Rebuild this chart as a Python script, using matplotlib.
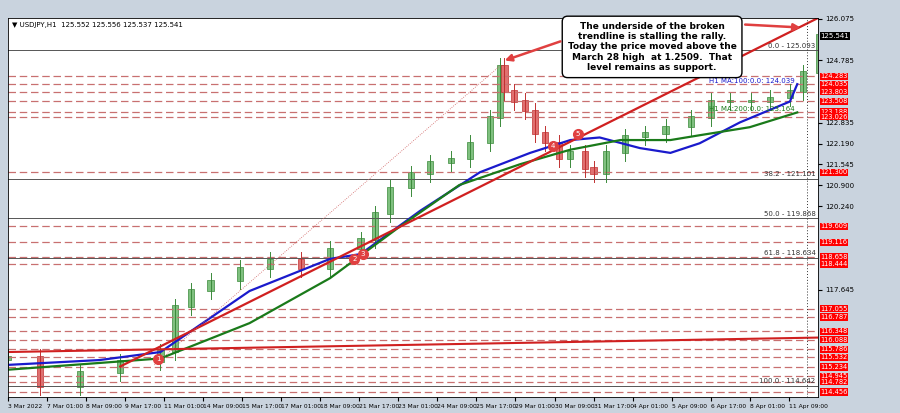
import numpy as np
import matplotlib.pyplot as plt

# estimated closes (bar index, price)
bars = [0, 26, 59, 92, 125, 137, 150, 166, 190, 215, 240, 264, 289, 301, 313, 330, 346, 363, 379, 395, 403, 407, 415, 424, 432, 440, 452, 461, 473, 480, 490, 506, 522, 539, 560, 576, 592, 609, 625, 641, 652, 665]
closes = [115.54, 114.62, 115.05, 115.40, 115.70, 117.10, 117.60, 117.90, 118.30, 118.55, 118.30, 118.90, 119.20, 120.00, 120.80, 121.25, 121.60, 121.70, 122.20, 123.00, 124.60, 123.80, 123.50, 123.20, 122.50, 122.20, 121.70, 121.90, 121.40, 121.25, 121.90, 122.40, 122.50, 122.70, 123.00, 123.50, 123.50, 123.50, 123.60, 123.80, 124.40, 125.54]
ma100_x = [0, 75, 125, 198, 264, 289, 338, 387, 428, 461, 485, 518, 543, 567, 600, 641, 647]
ma100_y = [115.3, 115.45, 115.7, 117.6, 118.6, 118.75, 120.1, 121.3, 121.9, 122.3, 122.38, 122.05, 121.9, 122.2, 122.85, 123.5, 124.04]
ma200_x = [0, 125, 198, 264, 321, 370, 420, 461, 502, 543, 567, 608, 647]
ma200_y = [115.15, 115.5, 116.6, 118.0, 119.6, 120.9, 121.55, 122.0, 122.3, 122.3, 122.45, 122.7, 123.16]

fib_levels = [125.093, 121.101, 119.868, 118.634, 114.642]
fib_names = ["0.0 - 125.093", "38.2 - 121.101", "50.0 - 119.868", "61.8 - 118.634", "100.0 - 114.642"]
red_levels = [124.283, 124.035, 123.803, 123.508, 123.188, 123.026, 121.300, 119.609, 119.116, 118.658,
              118.444, 117.055, 116.787, 116.348, 116.088, 115.786, 115.532, 115.234, 114.945, 114.782, 114.456]
axis_ticks = [124.785, 122.835, 122.190, 121.545, 120.900, 120.240, 117.645, 126.075]
tick_labels = ["3 Mar 2022", "7 Mar 01:00", "8 Mar 09:00", "9 Mar 17:00", "11 Mar 01:00", "14 Mar 09:00",
               "15 Mar 17:00", "17 Mar 01:00", "18 Mar 09:00", "21 Mar 17:00", "23 Mar 01:00", "24 Mar 09:00",
               "25 Mar 17:00", "29 Mar 01:00", "30 Mar 09:00", "31 Mar 17:00", "4 Apr 01:00", "5 Apr 09:00",
               "6 Apr 17:00", "8 Apr 01:00", "11 Apr 09:00"]

fig = plt.figure(figsize=(9, 4.13), dpi=100, facecolor="#c9d3de")
ax = fig.add_axes([8/900, 16/413, 810/900, 379/413], facecolor="white")
xmax = 664
ymin, ymax = 114.3, 126.1
ax.set_xlim(0, xmax)
ax.set_ylim(ymin, ymax)

for lv in red_levels:
    ax.axhline(lv, color="#c87070", lw=0.9, ls=(0, (6, 3)))
    ax.text(1.003, lv, f"{lv:.3f}", transform=ax.get_yaxis_transform(), fontsize=4.8, color="white",
            va="center", ha="left", bbox=dict(facecolor="red", edgecolor="none", pad=0.5), clip_on=False)
for lv, nm in zip(fib_levels, fib_names):
    ax.axhline(lv, color="#555555", lw=0.7)
    ax.text(xmax - 2, lv + 0.05, nm, fontsize=5, ha="right", va="bottom", color="#333333")

# candles
prev = closes[0]
for i, (b, c) in enumerate(zip(bars, closes)):
    o = prev if i > 0 else c - 0.1
    col = "#3a8a3a" if c >= o else "#c03030"
    hi = max(o, c) + 0.25
    lo = min(o, c) - 0.25
    ax.plot([b, b], [lo, hi], color=col, lw=0.7)
    ax.bar(b, abs(c - o) + 0.05, bottom=min(o, c), width=5, color="#7fc07f" if c >= o else "#e07070",
           edgecolor=col, lw=0.5)
    prev = c

ax.plot(ma100_x, ma100_y, color="#1a1acc", lw=1.6)
ax.plot(ma200_x, ma200_y, color="#1a7a1a", lw=1.6)
ax.text(645, 124.039, "H1 MA:100:0.0: 124.039", fontsize=5, color="#1a1acc", ha="right", va="bottom")
ax.text(645, 123.164, "H1 MA:200:0.0: 123.164", fontsize=5, color="#1a7a1a", ha="right", va="bottom")

# trendlines
ax.plot([0, xmax], [115.7, 116.15], color="#d02020", lw=1.5)
ax.plot([92, xmax], [115.25, 126.1], color="#d02020", lw=1.6)
ax.plot([120, 403], [115.3, 124.6], color="#d06060", lw=0.6, ls=":")
ax.axvline(655, color="#333333", lw=0.7, ls=(0, (1, 2)))

for n, (b, p) in enumerate([(123, 115.47), (284, 118.6), (291, 118.75), (447, 122.1), (467, 122.5)], start=1):
    ax.plot(b, p, "o", ms=7, color="#e04040")
    ax.text(b, p, str(n), fontsize=5, color="white", ha="center", va="center")

ax.text(0.005, 0.99, "▼ USDJPY,H1  125.552 125.556 125.537 125.541", transform=ax.transAxes,
        fontsize=5, va="top")
ax.text(xmax + 2, 125.541, "125.541", fontsize=5, color="white", va="center", ha="left",
        bbox=dict(facecolor="black", edgecolor="none", pad=0.6), clip_on=False)

# annotation
ax.text(528, 125.2, "The underside of the broken\ntrendline is stalling the rally.\nToday the price moved above the\nMarch 28 high  at 1.2509.  That\nlevel remains as support.",
        fontsize=6.5, fontweight="bold", ha="center", va="center", linespacing=1.2,
        bbox=dict(facecolor="white", edgecolor="black", boxstyle="round,pad=0.6"))
ax.annotate("", xy=(405, 124.75), xytext=(455, 125.4), arrowprops=dict(arrowstyle="-|>", color="#e04040", lw=1.8))
ax.annotate("", xy=(652, 125.8), xytext=(602, 125.9), arrowprops=dict(arrowstyle="-|>", color="#e04040", lw=1.8))

ax.set_xticks(np.arange(0, 21 * 32, 32))
ax.set_xticklabels(tick_labels, fontsize=4.3, ha="left")
ax.yaxis.tick_right()
ax.set_yticks(axis_ticks)
ax.set_yticklabels([f"{t:.3f}" for t in axis_ticks], fontsize=5)
ax.tick_params(length=3, pad=2)
for s in ax.spines.values():
    s.set_linewidth(0.6)

fig.savefig("out.png", dpi=100, facecolor=fig.get_facecolor())
